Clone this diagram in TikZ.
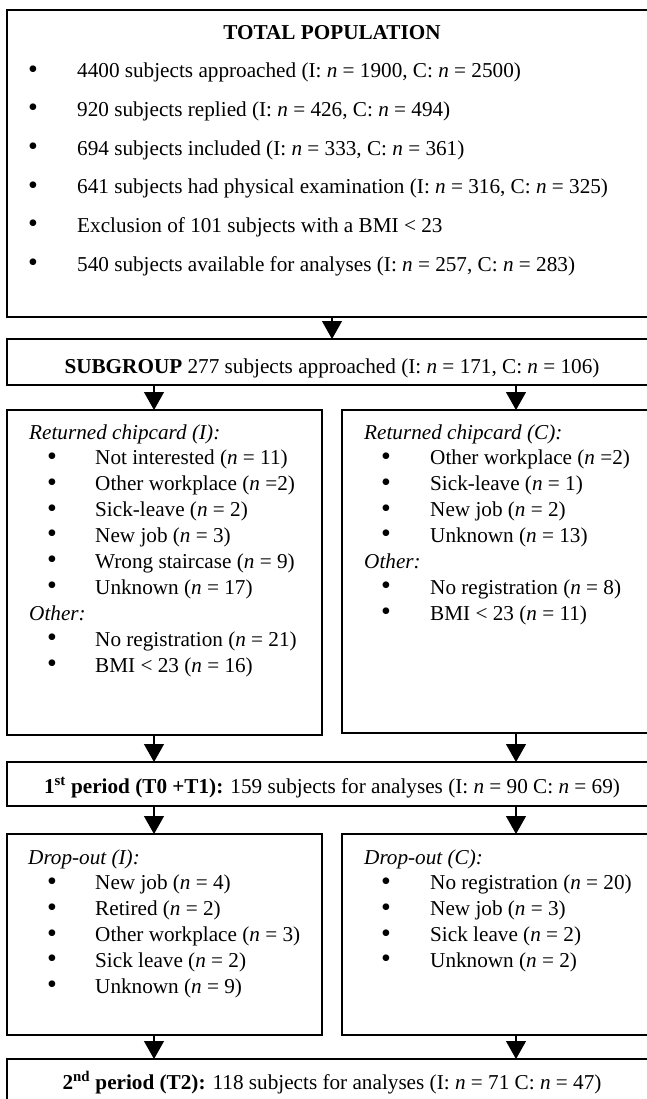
\documentclass[tikz,border=0pt]{standalone}
\usepackage{fontspec}
\setmainfont{Liberation Serif}
\usetikzlibrary{arrows.meta}
\newcommand{\itn}{\textit{n}}
\begin{document}
\begin{tikzpicture}[x=1pt,y=-1pt,
  box/.style={draw, line width=1.5pt, inner sep=0pt, outer sep=0pt},
  txt/.style={anchor=base west, inner sep=0pt, font=\fontsize{21.2}{25}\selectfont},
  ctxt/.style={anchor=base, inner sep=0pt, font=\fontsize{21.2}{25}\selectfont},
  dot/.style={anchor=center, inner sep=0pt, font=\fontsize{28}{28}\selectfont},
  arr/.style={line width=1.2pt, -{Triangle[width=20pt,length=18pt]}}]
\path[use as bounding box] (0,0) rectangle (647,1099);
\clip (0,0) rectangle (647,1099);

% column positions of the side arrows
\coordinate (lx) at (154,0);
\coordinate (rx) at (516,0);

% boxes
\node[box, minimum width=650pt, minimum height=307pt] (top) at (332,163.5) {};
\node[box, minimum width=650pt, minimum height=46pt]  (sub) at (332,362) {};
\node[box, minimum width=315pt, minimum height=325pt] (li)  at (164.5,572.5) {};
\node[box, minimum width=315pt, minimum height=323pt] (ri)  at (499.5,571.5) {};
\node[box, minimum width=650pt, minimum height=44pt]  (p1)  at (332,784) {};
\node[box, minimum width=315pt, minimum height=201pt] (ld)  at (164.5,934.5) {};
\node[box, minimum width=315pt, minimum height=201pt] (rd)  at (499.5,934.5) {};
\node[box, minimum width=650pt, minimum height=56pt]  (p2)  at (332,1087) {};

% total population
\node[ctxt] (ttl) at (332,40) {\textbf{TOTAL POPULATION}};
\node[dot] (b1) at (33,72) {•};
\node[txt] (t1) at (77,78) {4400 subjects approached (I: \itn{} = 1900, C: \itn{} = 2500)};
\node[dot] (b2) at (33,110.6) {•};
\node[txt] (t2) at (77,116.6) {920 subjects replied (I: \itn{} = 426, C: \itn{} = 494)};
\node[dot] (b3) at (33,149.2) {•};
\node[txt] (t3) at (77,155.2) {694 subjects included (I: \itn{} = 333, C: \itn{} = 361)};
\node[dot] (b4) at (33,187.8) {•};
\node[txt] (t4) at (77,193.8) {641 subjects had physical examination (I: \itn{} = 316, C: \itn{} = 325)};
\node[dot] (b5) at (33,226.4) {•};
\node[txt] (t5) at (77,232.4) {Exclusion of 101 subjects with a BMI < 23};
\node[dot] (b6) at (33,265) {•};
\node[txt] (t6) at (77,271) {540 subjects available for analyses (I: \itn{} = 257, C: \itn{} = 283)};

% subgroup
\node[ctxt] (sg) at (332,373) {\textbf{SUBGROUP} 277 subjects approached (I: \itn{} = 171, C: \itn{} = 106)};

% returned chipcard (I)
\node[txt] (lh) at (29,439) {\textit{Returned chipcard (I):}};
\node[dot] (lb1) at (52,458.9) {•};
\node[txt] (l1) at (95,464.9) {Not interested (\itn{} = 11)};
\node[dot] (lb2) at (52,484.8) {•};
\node[txt] (l2) at (95,490.8) {Other workplace (\itn{} =2)};
\node[dot] (lb3) at (52,510.7) {•};
\node[txt] (l3) at (95,516.7) {Sick-leave (\itn{} = 2)};
\node[dot] (lb4) at (52,536.6) {•};
\node[txt] (l4) at (95,542.6) {New job (\itn{} = 3)};
\node[dot] (lb5) at (52,562.5) {•};
\node[txt] (l5) at (95,568.5) {Wrong staircase (\itn{} = 9)};
\node[dot] (lb6) at (52,588.4) {•};
\node[txt] (l6) at (95,594.4) {Unknown (\itn{} = 17)};
\node[txt] (lo) at (29,620.3) {\textit{Other:}};
\node[dot] (lb7) at (52,640.2) {•};
\node[txt] (l7) at (95,646.2) {No registration (\itn{} = 21)};
\node[dot] (lb8) at (52,666.1) {•};
\node[txt] (l8) at (95,672.1) {BMI < 23 (\itn{} = 16)};

% returned chipcard (C)
\node[txt] (rh) at (364,439) {\textit{Returned chipcard (C):}};
\node[dot] (rb1) at (386,458.9) {•};
\node[txt] (r1) at (430,464.9) {Other workplace (\itn{} =2)};
\node[dot] (rb2) at (386,484.8) {•};
\node[txt] (r2) at (430,490.8) {Sick-leave (\itn{} = 1)};
\node[dot] (rb3) at (386,510.7) {•};
\node[txt] (r3) at (430,516.7) {New job (\itn{} = 2)};
\node[dot] (rb4) at (386,536.6) {•};
\node[txt] (r4) at (430,542.6) {Unknown (\itn{} = 13)};
\node[txt] (ro) at (364,568.5) {\textit{Other:}};
\node[dot] (rb5) at (386,588.4) {•};
\node[txt] (r5) at (430,594.4) {No registration (\itn{} = 8)};
\node[dot] (rb6) at (386,614.3) {•};
\node[txt] (r6) at (430,620.3) {BMI < 23 (\itn{} = 11)};

% first period
\node[ctxt] (pt1) at (332,793) {\textbf{1\textsuperscript{st} period (T0 +T1):} 159 subjects for analyses (I: \itn{} = 90 C: \itn{} = 69)};

% drop-out (I)
\node[txt] (dlh) at (28,864) {\textit{Drop-out (I):}};
\node[dot] (db1) at (52,883.9) {•};
\node[txt] (d1) at (95,889.9) {New job (\itn{} = 4)};
\node[dot] (db2) at (52,909.8) {•};
\node[txt] (d2) at (95,915.8) {Retired (\itn{} = 2)};
\node[dot] (db3) at (52,935.7) {•};
\node[txt] (d3) at (95,941.7) {Other workplace (\itn{} = 3)};
\node[dot] (db4) at (52,961.6) {•};
\node[txt] (d4) at (95,967.6) {Sick leave (\itn{} = 2)};
\node[dot] (db5) at (52,987.5) {•};
\node[txt] (d5) at (95,993.5) {Unknown (\itn{} = 9)};

% drop-out (C)
\node[txt] (drh) at (364,864) {\textit{Drop-out (C):}};
\node[dot] (eb1) at (386,883.9) {•};
\node[txt] (e1) at (430,889.9) {No registration (\itn{} = 20)};
\node[dot] (eb2) at (386,909.8) {•};
\node[txt] (e2) at (430,915.8) {New job (\itn{} = 3)};
\node[dot] (eb3) at (386,935.7) {•};
\node[txt] (e3) at (430,941.7) {Sick leave (\itn{} = 2)};
\node[dot] (eb4) at (386,961.6) {•};
\node[txt] (e4) at (430,967.6) {Unknown (\itn{} = 2)};

% second period
\node[ctxt] (pt2) at (332,1089) {\textbf{2\textsuperscript{nd} period (T2):} 118 subjects for analyses (I: \itn{} = 71 C: \itn{} = 47)};

% connectors
\draw[arr] (top.south) -- (sub.north);
\draw[arr] (sub.south -| lx) -- (li.north -| lx);
\draw[arr] (sub.south -| rx) -- (ri.north -| rx);
\draw[arr] (li.south -| lx) -- (p1.north -| lx);
\draw[arr] (ri.south -| rx) -- (p1.north -| rx);
\draw[arr] (p1.south -| lx) -- (ld.north -| lx);
\draw[arr] (p1.south -| rx) -- (rd.north -| rx);
\draw[arr] (ld.south -| lx) -- (p2.north -| lx);
\draw[arr] (rd.south -| rx) -- (p2.north -| rx);
\end{tikzpicture}
\end{document}
